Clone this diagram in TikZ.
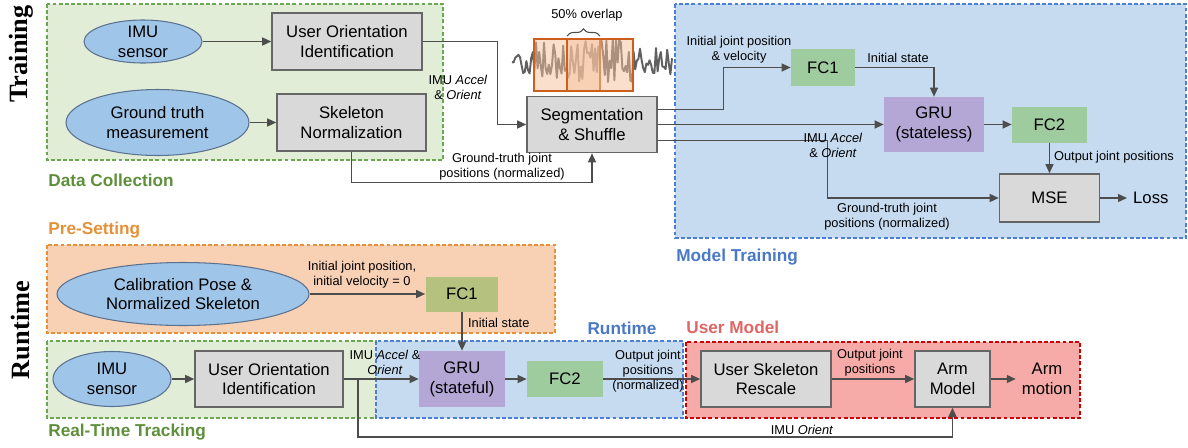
\documentclass[tikz,border=0pt]{standalone}
\usepackage{fontspec}
\setmainfont{Liberation Sans}
\newfontfamily\phasefont{Liberation Serif}
\usetikzlibrary{positioning,arrows.meta,shapes.geometric,calc,decorations.pathreplacing}

\definecolor{linegray}{HTML}{4D4D4D}
\definecolor{boxgray}{HTML}{D9D9D9}
\definecolor{boxline}{HTML}{666666}
\definecolor{sensorblue}{HTML}{9FC5E8}
\definecolor{sensorline}{HTML}{5B7190}
\definecolor{fcgreen}{HTML}{9FCC9F}
\definecolor{fcolive}{HTML}{B5C27F}
\definecolor{grupurple}{HTML}{B4A7D6}
\definecolor{dcfill}{HTML}{E2EDD7}
\definecolor{dcedge}{HTML}{6AA84F}
\definecolor{dctext}{HTML}{5E8F3A}
\definecolor{mtfill}{HTML}{C6DBF0}
\definecolor{mtedge}{HTML}{4A7FD4}
\definecolor{mttext}{HTML}{4A78C8}
\definecolor{psfill}{HTML}{F8D0B4}
\definecolor{psedge}{HTML}{E69138}
\definecolor{umfill}{HTML}{F6ABA8}
\definecolor{umedge}{HTML}{CC0000}
\definecolor{umtext}{HTML}{E06666}
\definecolor{wavegray}{HTML}{606060}
\definecolor{winfill}{HTML}{F6C09C}
\definecolor{winedge}{HTML}{CC5F1C}

\newcommand{\diagboxfont}{\fontsize{9.5}{11.3}\selectfont}
\newcommand{\edgefont}{\fontsize{7.3}{8.6}\selectfont}
\newcommand{\grpfont}{\fontsize{9.8}{11}\selectfont\bfseries}

\tikzset{
  flowarrow/.style={-{Triangle[length=1.8mm,width=1.6mm]}, line width=0.75pt, draw=linegray},
  sensor/.style={ellipse, draw=sensorline, line width=0.6pt, fill=sensorblue, align=center, font=\diagboxfont, inner sep=-3pt},
  procbox/.style={draw=boxline, line width=0.9pt, fill=boxgray, align=center, font=\diagboxfont},
  fcbox/.style={fill=fcgreen, align=center, font=\diagboxfont},
  grubox/.style={fill=grupurple, align=center, font=\diagboxfont},
  relabel/.style={font=\edgefont, align=center, inner sep=1pt},
  grouptitle/.style={font=\grpfont, anchor=west, inner sep=0pt},
  groupbox/.style={dash pattern=on 2.2pt off 1.3pt, line width=0.7pt},
  phase/.style={font=\phasefont\fontsize{15}{15}\selectfont\bfseries, rotate=90},
  wave/.style={draw=wavegray, line width=1.1pt, line join=round},
  window/.style={draw=winedge, line width=1pt, fill=winfill, fill opacity=0.5}
}

\begin{document}
\begin{tikzpicture}[x=0.02cm, y=-0.02cm]
  \useasboundingbox (0,0) rectangle (1188,447);

  % group boxes
  \draw[groupbox, draw=dcedge, fill=dcfill] (47,4) rectangle (443,160);
  \draw[groupbox, draw=mtedge, fill=mtfill] (675,4) rectangle (1186,238);
  \draw[groupbox, draw=psedge, fill=psfill] (47,245) rectangle (555,333);
  \draw[groupbox, draw=dcedge, fill=dcfill] (47,341) rectangle (376,418);
  \draw[groupbox, draw=mtedge, fill=mtfill] (376,341) rectangle (683,418);
  \draw[groupbox, draw=umedge, fill=umfill] (686,342) rectangle (1080,418);

  \node[grouptitle, text=dctext] (dctitle) at (48,180) {Data Collection};
  \node[grouptitle, text=mttext] (mttitle) at (676,257) {Model Training};
  \node[grouptitle, text=psedge] (pstitle) at (48,230) {Pre-Setting};
  \node[grouptitle, text=dctext] (rtttitle) at (48,432) {Real-Time Tracking};
  \node[grouptitle, text=mttext, anchor=center] (rttitle) at (622,328) {Runtime};
  \node[grouptitle, text=umtext] (umtitle) at (686,327) {User Model};

  \node[phase] (training) at (21,54) {Training};
  \node[phase] (runtime) at (21,330) {Runtime};

  % training
  \node[sensor, minimum width=2.36cm, minimum height=0.86cm] (imuT) at (143,41.5) {IMU\\sensor};
  \node[procbox, minimum width=3cm, minimum height=1.14cm] (uoiT) at (347,41.5) {User Orientation\\Identification};
  \node[sensor, minimum width=3.66cm, minimum height=1.32cm] (gtm) at (157.5,122.5) {Ground truth\\measurement};
  \node[procbox, minimum width=2.98cm, minimum height=1.14cm] (skel) at (351.5,122.5) {Skeleton\\Normalization};
  \node[procbox, minimum width=2.6cm, minimum height=1.12cm] (seg) at (592,124.5) {Segmentation\\\& Shuffle};
  \node[fcbox, minimum width=1.28cm, minimum height=0.74cm] (fc1T) at (823,67.5) {FC1};
  \node[grubox, minimum width=2cm, minimum height=1.1cm] (gruT) at (934,124.5) {GRU\\(stateless)};
  \node[fcbox, minimum width=1.5cm, minimum height=0.72cm] (fc2T) at (1049.5,124.5) {FC2};
  \node[procbox, minimum width=2cm, minimum height=0.96cm] (mse) at (1049.5,198) {MSE};
  \node[font=\diagboxfont, anchor=west] (loss) at (1127,198) {Loss};

  % sliding windows
  \pgfmathsetseed{11}
  \draw[wave] (512,62) \foreach \i in {1,...,100} { -- ({512+1.6*\i},{62+(abs(512+1.6*\i-583)<50 ? 23 : 14)*rand}) };
  \draw[window] (534,39) rectangle (600,91);
  \draw[window] (567,39) rectangle (633,91);
  \draw[draw=linegray, line width=0.6pt, decorate, decoration={brace, amplitude=4pt}] (567,36) -- (600,36);
  \node[relabel] (overlap) at (587,15) {50\% overlap};

  \draw[flowarrow] (imuT) -- (uoiT);
  \draw[flowarrow] (gtm) -- (skel);
  \draw[flowarrow] (uoiT.east) -- ++(75,0) |- (seg.west);
  \node[relabel] (accelT) at (458,87) {IMU \textit{Accel}\\\& \textit{Orient}};
  \draw[flowarrow] (skel.south) -- ++(0,31) -| (seg.south);
  \node[relabel] (gtT) at (502,167) {Ground-truth joint\\positions (normalized)};

  \draw[flowarrow] ($(seg.east)+(0,-15)$) -- ++(66,0) |- (fc1T.west);
  \node[relabel] (initT) at (739,50) {Initial joint position\\\& velocity};
  \draw[flowarrow] (seg.east) -- (gruT.west);
  \draw[flowarrow] ($(seg.east)+(0,16)$) -- ++(170,0) |- (mse.west);
  \node[relabel] (accelM) at (833,145) {IMU \textit{Accel}\\\& \textit{Orient}};
  \node[relabel] (gtM) at (887,217) {Ground-truth joint\\positions (normalized)};
  \draw[flowarrow] (fc1T.east) -| (gruT.north);
  \node[relabel] (stateT) at (898,58) {Initial state};
  \draw[flowarrow] (gruT) -- (fc2T);
  \draw[flowarrow] (fc2T) -- (mse);
  \node[relabel, anchor=west] (outT) at (1052,157) {Output joint positions};
  \draw[flowarrow] (mse) -- (loss);

  % runtime
  \node[sensor, minimum width=5.04cm, minimum height=1.26cm] (cal) at (183,294) {Calibration Pose \&\\Normalized Skeleton};
  \node[fcbox, fill=fcolive, minimum width=1.46cm, minimum height=0.7cm] (fc1R) at (462,294) {FC1};
  \node[sensor, minimum width=2.36cm, minimum height=1.1cm] (imuR) at (112,379) {IMU\\sensor};
  \node[procbox, minimum width=2.96cm, minimum height=1.12cm] (uoiR) at (269,379) {User Orientation\\Identification};
  \node[grubox, minimum width=1.72cm, minimum height=1.12cm] (gruR) at (462,379) {GRU\\(stateful)};
  \node[fcbox, minimum width=1.52cm, minimum height=0.72cm] (fc2R) at (565,379) {FC2};
  \node[procbox, minimum width=2.6cm, minimum height=1.12cm] (usr) at (766,379) {User Skeleton\\Rescale};
  \node[procbox, minimum width=1.5cm, minimum height=1.12cm] (arm) at (952.5,379) {Arm\\Model};
  \node[font=\diagboxfont, align=center] (motion) at (1047,379) {Arm\\motion};

  \draw[flowarrow] (cal) -- (fc1R);
  \node[relabel] (initR) at (362,274.5) {Initial joint position,\\initial velocity = 0};
  \draw[flowarrow] (fc1R) -- (gruR);
  \node[relabel, anchor=west] (stateR) at (466,323) {Initial state};
  \draw[flowarrow] (imuR) -- (uoiR);
  \draw[flowarrow] (uoiR) -- (gruR);
  \node[relabel] (accelR) at (385,362) {IMU \textit{Accel} \&\\\textit{Orient}};
  \coordinate (tap) at (358,379);
  \draw[flowarrow] (tap) -- ++(0,58) -| (arm.south);
  \node[relabel] (orientR) at (802,430) {IMU \textit{Orient}};
  \draw[flowarrow] (gruR) -- (fc2R);
  \draw[flowarrow] (fc2R) -- (usr);
  \node[relabel] (outR) at (648,371) {Output joint\\positions\\(normalized)};
  \draw[flowarrow] (usr) -- (arm);
  \node[relabel] (outU) at (870,363) {Output joint\\positions};
  \draw[flowarrow] (arm) -- (motion);
\end{tikzpicture}
\end{document}
